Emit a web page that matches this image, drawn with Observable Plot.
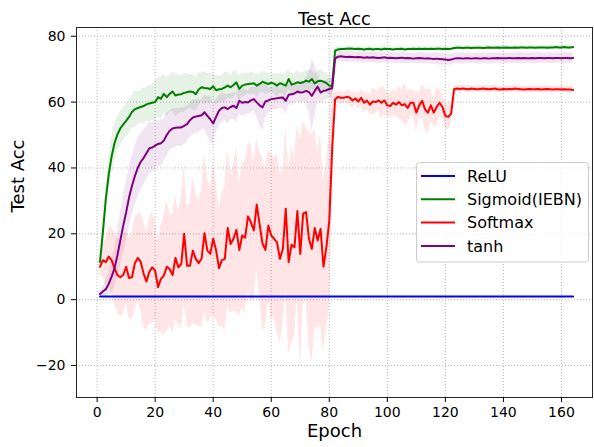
<!DOCTYPE html>
<html>
<head>
<meta charset="utf-8">
<script src="https://cdn.jsdelivr.net/npm/d3@7"></script>
<script src="https://cdn.jsdelivr.net/npm/@observablehq/plot@0.6"></script>
<style>
  html, body { margin: 0; padding: 0; background: #fff; }
  #chart { width: 594px; height: 447px; }
</style>
</head>
<body>
<div id="chart"></div>
<script>
// ---------- data ----------
const seriesNames = ["ReLU", "Sigmoid(IEBN)", "Softmax", "tanh"];
const seriesColors = ["#0000ff", "#008000", "#ff0000", "#800080"];
const xTicks = [0, 20, 40, 60, 80, 100, 120, 140, 160];
const yTicks = [-20, 0, 20, 40, 60, 80];
const epochs = d3.range(1, 165);

const relu = [
  1,1,1,1,1,1,1,1,1,1, 1,1,1,1,1,1,1,1,1,1, 1,1,1,1,1,1,1,1,1,1, 1,1,1,1,1,1,1,1,1,1,
  1,1,1,1,1,1,1,1,1,1, 1,1,1,1,1,1,1,1,1,1, 1,1,1,1,1,1,1,1,1,1, 1,1,1,1,1,1,1,1,1,1,
  1,1,1,1,1,1,1,1,1,1, 1,1,1,1,1,1,1,1,1,1, 1,1,1,1,1,1,1,1,1,1, 1,1,1,1,1,1,1,1,1,1,
  1,1,1,1,1,1,1,1,1,1, 1,1,1,1,1,1,1,1,1,1, 1,1,1,1,1,1,1,1,1,1, 1,1,1,1,1,1,1,1,1,1,
  1,1,1,1
];

const sigmoid = [
  11.5, 20.5, 30.5, 38, 43.5, 47.5, 50.2, 52, 53.2, 54.3,
  55.5, 57, 57.8, 58.2, 58.5, 58.8, 59.3, 59.6, 59.8, 60,
  61.5, 61, 62.5, 61.5, 62.5, 63.2, 62, 62.3, 62.4, 62.8,
  63, 63.2, 63.1, 62.4, 63.8, 64.5, 64.3, 64.2, 64, 64.8,
  63.6, 63.9, 64, 64.5, 65, 64.5, 65.2, 66, 64, 65,
  65.3, 65.5, 65.6, 65.7, 65, 65.5, 66.2, 65.8, 65.5, 65.9,
  65.6, 65, 65.7, 65.4, 65, 67, 65.3, 65.6, 66, 65.8,
  66, 66.5, 66.2, 67, 65.7, 66.3, 66.5, 66.2, 65.8, 65,
  64.8, 75.6, 76.0, 76.1, 76.1, 76.2, 76.3, 76.2, 76.1, 76.2,
  76.1, 76.0, 76.1, 76.2, 76.0, 76.1, 76.1, 76.0, 76.2, 76.1,
  76.1, 76.0, 76.1, 76.1, 76.2, 76.0, 76.1, 76.1, 76.2, 76.1,
  76.2, 76.1, 76.2, 76.1, 76.2, 76.1, 76.2, 76.2, 76.1, 76.2,
  76.1, 76.2, 76.4, 76.5, 76.5, 76.4, 76.5, 76.5, 76.4, 76.5,
  76.5, 76.5, 76.4, 76.5, 76.6, 76.5, 76.5, 76.6, 76.5, 76.5,
  76.6, 76.5, 76.5, 76.6, 76.5, 76.6, 76.6, 76.5, 76.6, 76.6,
  76.5, 76.6, 76.6, 76.6, 76.5, 76.6, 76.6, 76.7, 76.6, 76.6,
  76.7, 76.6, 76.6, 76.7
];

const softmax = [
  10.0, 12.0, 11.4, 13.1, 12.0, 9.5, 7.5, 6.8, 7.5, 10.0,
  6.6, 6.8, 11.0, 12.7, 11.5, 8.0, 5.5, 8.5, 9.8, 8.8,
  3.8, 6.3, 7.3, 10.0, 9.3, 7.5, 12.7, 9.8, 10.9, 20.0,
  10.3, 10.3, 14.9, 12.4, 11.1, 12.5, 20.2, 14.9, 13.9, 18.5,
  15.0, 9.6, 12.0, 12.4, 21.8, 16.9, 18.5, 21.2, 15.1, 19.5,
  18.8, 25.3, 23.5, 21.0, 28.9, 22.8, 17.0, 15.1, 22.5, 19.5,
  18.5, 17.4, 12.4, 15.4, 27.6, 11.4, 16.7, 15.9, 26.9, 13.9,
  26.1, 26.6, 18.5, 15.4, 21.8, 18.0, 21.5, 10.0, 15.9, 24.0,
  46.0, 60.8, 61.6, 61.3, 61.3, 61.6, 61.4, 60.5, 61.1, 60.2,
  61.3, 59.8, 60.5, 59.2, 60.2, 60.0, 60.5, 59.8, 60.5, 59.0,
  58.8, 59.8, 59.2, 60.0, 59.0, 59.4, 58.2, 59.8, 59.8, 56.8,
  59.0, 60.4, 57.8, 56.8, 59.0, 56.8, 58.5, 59.8, 58.5, 55.8,
  55.5, 56.5, 63.9, 64.1, 64.0, 64.1, 64.0, 63.9, 64.1, 64.0,
  63.9, 64.0, 64.1, 64.0, 63.9, 64.0, 64.1, 63.9, 63.8, 64.0,
  63.9, 64.0, 63.9, 64.1, 64.0, 63.9, 63.8, 63.9, 64.0, 63.9,
  63.9, 64.0, 63.8, 63.9, 64.0, 63.9, 63.8, 63.9, 63.9, 63.8,
  63.9, 63.8, 63.8, 63.7
];

const tanh = [
  1.7, 2.5, 3.2, 4.8, 7, 9.5, 13.5, 18, 22.5, 26.5,
  31, 34.5, 37.5, 40, 41.8, 43, 44.5, 46, 46.2, 46.8,
  47.3, 47.5, 48.3, 50, 51.3, 52, 52.2, 52.3, 52.3, 52.8,
  53.3, 54.5, 55.3, 55.6, 55.8, 56, 56.9, 55.8, 54.8, 53.5,
  55.5, 57.4, 58.2, 58.4, 57.9, 58.5, 58.9, 58.2, 60.4, 59.8,
  60, 59.9, 60.5, 60.9, 59.9, 59, 58.4, 60.2, 60.5, 60.9,
  61, 61.2, 61.3, 61.4, 60.4, 62.2, 62.4, 62.6, 63.2, 62.9,
  63, 63.4, 63, 61.9, 63.4, 64.7, 62.9, 63.4, 63.6, 64,
  64.2, 73.2, 73.8, 73.9, 73.8, 73.7, 73.8, 73.7, 73.6, 73.7,
  73.6, 73.5, 73.6, 73.5, 73.6, 73.5, 73.4, 73.5, 73.6, 73.4,
  73.5, 73.4, 73.3, 73.4, 73.5, 73.3, 73.4, 73.3, 73.2, 73.3,
  73.4, 73.3, 73.2, 73.3, 73.2, 73.1, 73.2, 73.1, 73.0, 72.9,
  72.8, 72.9, 73.2, 73.3, 73.3, 73.2, 73.3, 73.3, 73.2, 73.3,
  73.3, 73.2, 73.3, 73.3, 73.2, 73.3, 73.3, 73.4, 73.3, 73.3,
  73.3, 73.4, 73.3, 73.3, 73.4, 73.3, 73.4, 73.3, 73.3, 73.4,
  73.3, 73.4, 73.4, 73.3, 73.4, 73.4, 73.3, 73.4, 73.4, 73.3,
  73.4, 73.4, 73.3, 73.4
];

// spread (half-width) of the shaded bands
const sigmoidStd = [
  1.5, 3, 4, 5, 5.5, 5.5, 5, 5, 5, 5,
  5, 5, 5.5, 5, 5, 5.5, 5, 5.5, 5.5, 6,
  6, 6.5, 6, 6, 5.5, 6, 6.5, 6, 5.5, 6,
  5.5, 5, 5.5, 5, 5, 4.5, 5, 4.5, 4.5, 4,
  4.5, 4, 4, 4.5, 4, 3.5, 4, 3.5, 4, 3.5,
  3.5, 3, 3.5, 3, 3.5, 3, 3, 3.5, 3, 3,
  3, 3.5, 3, 3, 3.5, 3, 3, 3, 3.5, 3,
  3, 3, 3.5, 3, 3, 3, 3.5, 3, 3, 3,
  3, 1, 0.7, 0.6, 0.6, 0.7, 0.6, 0.6, 0.7, 0.6,
  0.6, 0.7, 0.6, 0.6, 0.7, 0.6, 0.6, 0.7, 0.6, 0.6,
  0.7, 0.6, 0.6, 0.7, 0.6, 0.6, 0.7, 0.6, 0.6, 0.7,
  0.6, 0.6, 0.7, 0.6, 0.6, 0.7, 0.6, 0.6, 0.7, 0.6,
  0.6, 0.7, 0.6, 0.6, 0.7, 0.6, 0.6, 0.7, 0.6, 0.6,
  0.7, 0.6, 0.6, 0.7, 0.6, 0.6, 0.7, 0.6, 0.6, 0.7,
  0.6, 0.6, 0.7, 0.6, 0.6, 0.7, 0.6, 0.6, 0.7, 0.6,
  0.6, 0.7, 0.6, 0.6, 0.7, 0.6, 0.6, 0.7, 0.6, 0.6,
  0.7, 0.6, 0.6, 0.7
];

const softmaxStd = [
  3, 5, 7, 9, 10, 11, 11, 12, 12, 11,
  12, 13, 14, 13, 15, 16, 15, 16, 17, 15,
  14, 16, 18, 20, 17, 18, 19, 17, 20, 21,
  18, 19, 22, 20, 19, 21, 24, 22, 20, 23,
  21, 18, 20, 22, 24, 21, 22, 25, 20, 22,
  23, 22, 24, 21, 20, 22, 26, 24, 23, 25,
  24, 27, 26, 23, 25, 28, 30, 27, 26, 35,
  28, 26, 32, 35, 30, 27, 29, 26, 25, 27,
  20, 2, 1.5, 2, 1.5, 2, 2, 2.5, 2, 2.5,
  2.5, 3, 2.5, 3, 4, 3.5, 3, 5, 4, 3.5,
  3.5, 4, 3.5, 5, 4.5, 6.5, 5, 4, 3.5, 6,
  4, 5, 6, 7, 5, 4, 6, 4, 3.5, 4,
  4, 3.5, 1, 1, 1.2, 1, 1, 1.1, 1, 1,
  1, 1.1, 1, 1, 1.2, 1, 1, 1.1, 1, 1,
  1, 1.1, 1, 1, 1.2, 1, 1, 1.1, 1, 1,
  1, 1.1, 1, 1, 1.2, 1, 1, 1.1, 1, 1,
  1, 1.1, 1, 1
];

const tanhStd = [
  1, 1.5, 2.5, 3.5, 5, 6, 7, 8, 8.5, 9,
  9, 9, 9, 9, 8.5, 8.5, 8, 8, 7.5, 7.5,
  7, 7, 6.5, 6.5, 6, 6, 6, 5.5, 6, 5.5,
  5.5, 5, 5.5, 5, 5, 4.5, 5, 6, 7, 6.5,
  5, 4.5, 4.5, 4, 4.5, 4, 4, 4.5, 4, 4,
  4, 3.5, 4, 3.5, 4.5, 6, 7, 5, 4, 3.5,
  3.5, 3.5, 3, 3.5, 4, 3, 3.5, 3, 3, 3.5,
  3, 4, 6, 11, 8, 4, 3.5, 3, 3, 3,
  3, 1.6, 1.5, 1.6, 1.5, 1.6, 1.7, 1.6, 1.5, 1.6,
  1.6, 1.7, 1.6, 1.5, 1.6, 1.7, 1.6, 1.6, 1.5, 1.6,
  1.7, 1.6, 1.6, 1.5, 1.6, 1.7, 1.6, 1.6, 1.5, 1.6,
  1.7, 1.6, 1.6, 1.5, 1.6, 1.7, 1.8, 1.9, 1.8, 1.7,
  1.6, 1.6, 1.6, 1.5, 1.6, 1.7, 1.6, 1.6, 1.5, 1.6,
  1.7, 1.6, 1.6, 1.5, 1.6, 1.7, 1.6, 1.6, 1.5, 1.6,
  1.7, 1.6, 1.6, 1.5, 1.6, 1.7, 1.6, 1.6, 1.5, 1.6,
  1.7, 1.6, 1.6, 1.5, 1.6, 1.7, 1.6, 1.6, 1.5, 1.6,
  1.7, 1.6, 1.6, 1.5
];

// ---------- build tables ----------
const valuesBySeries = [relu, sigmoid, softmax, tanh];
const stdBySeries = [null, sigmoidStd, softmaxStd, tanhStd];
const rowsBySeries = valuesBySeries.map((vals, si) =>
  epochs.map((e, i) => ({
    epoch: e,
    value: vals[i],
    std: stdBySeries[si] ? stdBySeries[si][i] : 0,
    series: seriesNames[si]
  }))
);

const FONT = "DejaVu Sans, sans-serif";
const gridStyle = { stroke: "#b0b0b0", strokeOpacity: 1, strokeWidth: 0.9, strokeDasharray: "1,2" };

const marks = [
  Plot.gridX(xTicks, gridStyle),
  Plot.gridY(yTicks, gridStyle)
];
// shaded bands
[1, 2, 3].forEach(si => {
  marks.push(Plot.areaY(rowsBySeries[si], {
    x: "epoch",
    y1: d => d.value - d.std,
    y2: d => d.value + d.std,
    fill: seriesColors[si],
    fillOpacity: 0.1
  }));
});
// mean lines
[0, 1, 2, 3].forEach(si => {
  marks.push(Plot.lineY(rowsBySeries[si], {
    x: "epoch", y: "value",
    stroke: seriesColors[si], strokeWidth: 2
  }));
});
marks.push(
  Plot.frame({ stroke: "#262626", strokeWidth: 1 }),
  Plot.axisX(xTicks, { tickSize: 5, tickPadding: 5, fontSize: 14, label: null }),
  Plot.axisY(yTicks, { tickSize: 5, tickPadding: 6, fontSize: 14, label: null }),
  Plot.text(["Test Acc"], { frameAnchor: "top", dy: -15, fontSize: 18, text: d => d }),
  Plot.text(["Epoch"], { frameAnchor: "bottom", dy: 39, fontSize: 18, text: d => d }),
  Plot.text(["Test Acc"], { frameAnchor: "left", dx: -58, rotate: -90, fontSize: 18, text: d => d })
);

const svg = Plot.plot({
  width: 594,
  height: 447,
  marginLeft: 76,
  marginRight: 2,
  marginTop: 27,
  marginBottom: 50,
  x: { domain: [-7.1, 170.7] },
  y: { domain: [-29.7, 82.65] },
  style: { fontFamily: FONT, fontSize: "14px", color: "#000", background: "#fff", overflow: "visible" },
  marks
});

// ---------- legend (matplotlib style box) ----------
const lg = d3.select(svg).append("g")
  .attr("font-family", FONT).attr("font-size", 16).attr("text-anchor", "start");
lg.append("rect")
  .attr("x", 416.5).attr("y", 162.5).attr("width", 172).attr("height", 99.5)
  .attr("rx", 3).attr("fill", "#fff").attr("fill-opacity", 0.8)
  .attr("stroke", "#cccccc").attr("stroke-width", 1);
seriesNames.forEach((name, i) => {
  const y = 176 + i * 23.3;
  lg.append("line").attr("x1", 421).attr("x2", 455).attr("y1", y).attr("y2", y)
    .attr("stroke", seriesColors[i]).attr("stroke-width", 2);
  lg.append("text").attr("x", 467).attr("y", y).attr("dy", "0.35em")
    .attr("text-anchor", "start").attr("fill", "#000").text(name);
});

document.getElementById("chart").appendChild(svg);
</script>
</body>
</html>
